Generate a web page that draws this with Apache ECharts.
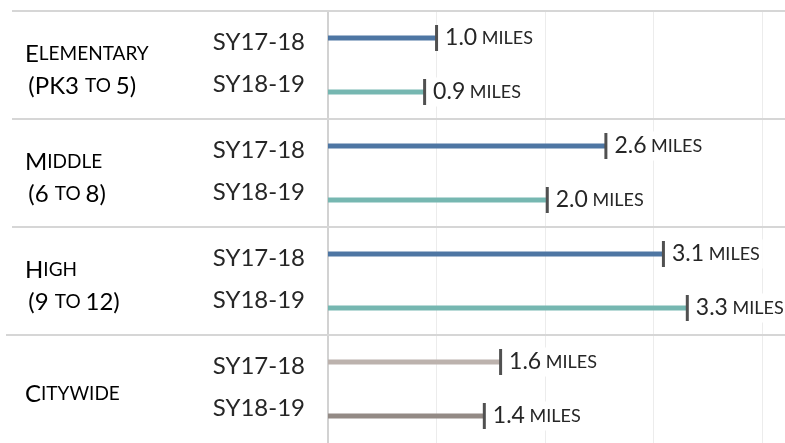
<!DOCTYPE html>
<html lang="en">
<head>
<meta charset="utf-8">
<title>Average distance travelled</title>
<style>
  html, body { margin: 0; padding: 0; background: #fff; }
  #main { width: 785px; height: 443px; }
</style>
</head>
<body>
<div id="main"></div>
<script src="https://cdn.jsdelivr.net/npm/echarts@6/dist/echarts.min.js"></script>
<script>
var groups = ['Elementary', 'Middle', 'High', 'Citywide'];
var groupNotes = ['(PK3 to 5)', '(6 to 8)', '(9 to 12)', ''];
var years = ['SY17-18', 'SY18-19'];
// miles, two school years per group
var miles = [1.0, 0.89, 2.56, 2.02, 3.09, 3.31, 1.59, 1.44];
var rowColors = ['#4e76a3', '#76b7b1', '#4e76a3', '#76b7b1', '#4e76a3', '#76b7b1', '#bcb2ad', '#938a85'];

var FONT = 'Lato';
var INK = '#262626';

// fake small caps with rich text: capitals/digits big, lowercase small
function smallCaps(str) {
  var out = '', run = '', runBig = null;
  for (var i = 0; i < str.length; i++) {
    var ch = str[i];
    var big = !(ch >= 'a' && ch <= 'z');
    if (ch === ' ') big = runBig === null ? true : runBig;
    if (big !== runBig && run) {
      out += '{' + (runBig ? 'c' : 's') + '|' + run + '}';
      run = '';
    }
    runBig = big;
    run += big ? ch : ch.toUpperCase();
  }
  if (run) out += '{' + (runBig ? 'c' : 's') + '|' + run + '}';
  return out;
}

var rows = miles.map(function (v, i) { return i; });

var myChart = echarts.init(document.getElementById('main'));

var option = {
  backgroundColor: '#fff',
  animation: false,
  grid: { left: 328, right: 0, top: 11, bottom: 0 },
  xAxis: {
    type: 'value',
    min: 0,
    max: 4.21,
    interval: 1,
    axisLabel: { show: false },
    axisLine: { show: false },
    axisTick: { show: false },
    splitLine: { lineStyle: { color: '#ececec', width: 1 } }
  },
  yAxis: {
    type: 'category',
    inverse: true,
    data: rows,
    axisLine: { show: true, lineStyle: { color: '#d2d2d2', width: 2 } },
    axisTick: { show: false },
    axisLabel: {
      margin: 23,
      formatter: function (v, i) {
        return i % 2 ? '{b|' + years[1] + '}' : '{a|' + years[0] + '}';
      },
      rich: {
        // year labels sit a little closer together than the bars
        a: { fontFamily: FONT, fontSize: 24, color: INK, padding: [8, 0, 0, 0] },
        b: { fontFamily: FONT, fontSize: 24, color: INK, padding: [0, 0, 16, 0] }
      }
    }
  },
  series: [
    {
      type: 'bar',
      barWidth: 5,
      data: miles.map(function (v, i) {
        return { value: v, itemStyle: { color: rowColors[i] } };
      }),
      z: 2
    },
    {
      type: 'scatter',
      symbol: 'rect',
      symbolSize: [3, 26],
      itemStyle: { color: '#505050', opacity: 1 },
      data: miles.map(function (v, i) { return [v, i]; }),
      label: {
        show: true,
        position: 'right',
        distance: 4,
        backgroundColor: '#fff',
        padding: [3, 3],
        formatter: function (p) {
          return '{n|' + p.value[0].toFixed(1) + '}{m| MILES}';
        },
        rich: {
          n: { fontFamily: FONT, fontSize: 23, color: INK },
          m: { fontFamily: FONT, fontSize: 18, color: INK }
        }
      },
      z: 3
    }
  ]
};

myChart.setOption(option);

// group names and separators, placed from the category axis
var yOf = function (i) { return myChart.convertToPixel({ yAxisIndex: 0 }, i); };
var band = yOf(1) - yOf(0);
var els = [];
groups.forEach(function (g, k) {
  var top = yOf(k * 2) - band / 2;
  var mid = (yOf(k * 2) + yOf(k * 2 + 1)) / 2;
  els.push({
    type: 'line',
    z: 1,
    shape: { x1: k === 3 ? 6 : 12, y1: top, x2: 785, y2: top },
    style: { stroke: '#d6d6d6', lineWidth: 2 }
  });
  var txt = smallCaps(g);
  if (groupNotes[k]) txt += '\n ' + smallCaps(groupNotes[k]);
  els.push({
    type: 'text',
    z: 5,
    x: 25,
    y: mid + 5,
    style: {
      text: txt,
      verticalAlign: 'middle',
      rich: {
        c: { fontFamily: FONT, fontSize: 24, color: INK, lineHeight: 32 },
        s: { fontFamily: FONT, fontSize: 19, color: INK, lineHeight: 32 }
      }
    }
  });
});
myChart.setOption({ graphic: els });
</script>
</body>
</html>
